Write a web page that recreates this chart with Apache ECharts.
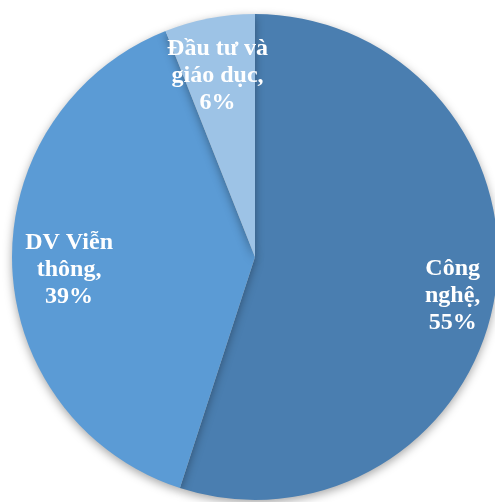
<!DOCTYPE html>
<html>
<head>
<meta charset="utf-8">
<script src="https://cdn.jsdelivr.net/npm/echarts@6/dist/echarts.min.js"></script>
<style>
  html, body { margin: 0; padding: 0; background: #fff; }
  #main { width: 495px; height: 502px; }
</style>
</head>
<body>
<div id="main"></div>
<script>
// du lieu
var names = ['Công nghệ', 'DV Viễn thông', 'Đầu tư và giáo dục'];
var values = [55, 39, 6];
var labelLines = [
    ['Công', 'nghệ,', '55%'],
    ['DV Viễn', 'thông,', '39%'],
    ['Đầu tư và', 'giáo dục,', '6%']
];
var colors = ['#4a7eb0', '#5b9bd5', '#9dc3e6'];
// chinh vi tri nhan cho giong excel
var labelOffsets = [[11, 9], [3, 7], [-2, 4]];

var data = names.map(function (n, i) {
    return { name: n, value: values[i], itemStyle: { color: colors[i] } };
});

var myChart = echarts.init(document.getElementById('main'));
myChart.setOption({
    animation: false,
    series: [
        {
            // hinh tron chinh
            type: 'pie',
            center: [255, 257],
            radius: 243,
            startAngle: 90,
            silent: true,
            label: { show: false },
            labelLine: { show: false },
            itemStyle: {
                shadowBlur: 10,
                shadowOffsetY: 3,
                shadowColor: 'rgba(0,0,0,0.35)'
            },
            data: data
        },
        {
            // vong trong suot chi de dat nhan
            type: 'pie',
            center: [255, 257],
            radius: [129, 243],
            startAngle: 90,
            silent: true,
            itemStyle: { color: 'rgba(0,0,0,0)' },
            labelLine: { show: false },
            label: {
                show: true,
                position: 'inside',
                color: '#fff',
                fontFamily: 'Liberation Serif',
                fontWeight: 'bold',
                fontSize: 24,
                lineHeight: 27,
                align: 'center',
                formatter: function (p) {
                    return labelLines[p.dataIndex].join('\n');
                }
            },
            data: names.map(function (n, i) {
                return { name: n, value: values[i], label: { offset: labelOffsets[i] } };
            })
        }
    ]
});
</script>
</body>
</html>
